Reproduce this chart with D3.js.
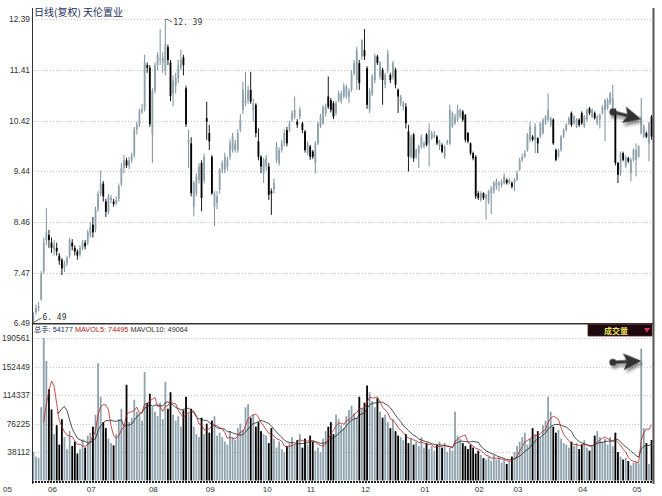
<!DOCTYPE html>
<html>
<head>
<meta charset="utf-8">
<script src="https://cdn.jsdelivr.net/npm/d3@7"></script>
<style>
body { margin: 0; background: #fff; }
svg { display: block; }
</style>
</head>
<body>
<svg width="662" height="496"></svg>
<script>
// daily bars, 天伦置业, 2009-05 .. 2010-05
const opens = [6.55,6.70,6.78,6.95,7.50,8.10,8.20,8.05,7.90,7.95,
  7.80,7.72,7.55,7.65,7.80,8.05,7.95,7.88,7.82,7.95,
  8.05,8.05,8.20,8.40,8.30,8.70,9.00,9.20,8.85,8.65,
  8.88,8.85,8.82,8.90,9.20,9.50,9.65,9.55,9.65,9.75,
  10.25,10.35,10.60,10.65,11.50,11.45,10.15,11.00,11.50,11.60,
  11.55,11.40,11.85,11.55,10.95,11.10,11.25,11.45,11.65,11.05,
  10.00,9.98,8.75,9.01,9.27,9.60,9.27,10.47,10.18,9.72,
  8.75,8.82,9.08,9.47,9.47,9.53,9.72,9.85,
  9.85,9.85,10.24,10.63,10.76,10.82,11.02,10.63,10.73,10.02,9.72,9.40,9.53,9.53,9.05,9.08,9.66,
  9.60,9.85,9.98,10.24,10.24,10.44,10.50,
  10.40,10.50,10.37,10.21,9.79,9.92,9.82,9.60,9.98,10.31,10.37,10.57,10.89,10.82,10.76,10.57,10.82,10.79,10.89,
  10.89,10.89,11.02,11.34,11.21,11.54,11.67,11.79,11.44,10.63,10.95,11.21,11.67,11.28,11.41,11.12,11.41,11.31,11.28,
  11.41,11.02,10.76,10.69,10.69,10.21,9.72,10.15,9.72,9.79,9.92,9.92,
  10.15,9.98,10.08,
  10.11,10.11,9.92,9.95,9.72,
  9.98,9.98,10.31,10.37,10.44,10.50,
  10.60,10.53,10.18,9.98,9.79,9.72,9.01,8.88,9.01,8.92,8.85,9.01,9.05,9.14,
  9.17,9.17,9.21,9.27,9.21,
  9.21,9.21,9.27,9.47,
  9.66,9.72,9.85,10.05,10.11,10.05,10.08,10.11,10.18,10.37,10.44,10.34,10.44,9.85,9.72,9.85,10.11,10.24,
  10.37,
  10.57,10.37,10.31,
  10.44,10.57,10.31,10.44,10.66,10.50,
  10.57,10.37,10.44,
  10.57,10.63,10.66,10.76,10.63,10.63,9.60,9.40,
  9.79,9.53,9.69,
  9.40,
  9.66,9.66,9.72,10.18,10.11,10.18,9.98,10.50];

const closes = [6.62,6.78,6.82,7.45,8.05,8.25,8.10,7.95,8.00,7.88,
  7.70,7.55,7.65,7.75,8.10,7.98,7.88,7.80,7.95,8.05,
  7.98,8.25,8.35,8.25,8.70,9.00,9.20,8.95,8.65,8.95,
  8.92,8.80,8.88,9.15,9.50,9.65,9.55,9.65,9.75,10.25,
  10.35,10.60,10.65,11.55,11.45,10.35,11.00,11.50,11.70,11.62,
  11.65,11.90,11.60,10.90,11.20,11.25,11.50,11.60,11.50,10.35,
  10.05,9.01,9.21,9.34,9.53,8.92,9.72,10.40,10.02,9.01,
  9.01,8.95,9.47,9.60,9.72,9.66,9.98,10.11,
  9.98,10.18,10.44,11.02,10.82,11.02,10.79,10.76,10.18,9.72,9.53,9.66,9.69,8.98,9.01,9.21,9.92,
  9.85,9.98,10.18,9.98,10.37,10.57,10.63,
  10.34,10.63,10.24,9.85,9.98,9.72,9.72,9.98,10.37,10.50,10.69,10.69,10.69,10.63,10.50,10.76,10.95,10.95,11.08,
  11.08,11.00,11.34,11.54,11.79,11.15,11.99,11.67,10.73,10.99,11.28,11.67,11.54,11.54,11.21,11.31,11.73,11.21,11.54,
  11.12,10.89,10.89,10.76,10.37,9.72,10.11,9.69,9.85,9.92,10.11,9.98,
  9.95,10.24,10.18,
  10.15,9.98,10.02,9.82,9.92,
  10.02,10.63,10.57,10.50,10.63,10.63,
  10.44,10.05,10.02,9.79,9.69,8.95,8.92,9.01,8.92,8.98,9.05,9.11,9.21,9.24,
  9.21,9.24,9.34,9.21,9.27,
  9.14,9.27,9.40,9.66,
  9.72,9.79,10.15,10.31,10.05,10.31,9.98,10.37,10.44,10.50,10.63,10.47,9.98,9.66,9.85,10.11,10.24,10.34,
  10.47,
  10.34,10.50,10.44,
  10.34,10.37,10.50,10.63,10.57,10.63,
  10.47,10.50,10.53,
  10.69,10.82,10.82,10.95,10.86,9.60,9.37,9.79,
  9.66,9.72,9.63,
  9.66,
  9.85,9.85,9.92,10.50,10.31,10.11,10.37,10.11];

const highs = [6.70,6.85,6.90,7.50,8.15,8.72,8.30,8.15,8.10,8.05,
  7.85,7.75,7.70,7.80,8.15,8.12,8.00,7.92,8.00,8.10,
  8.10,8.30,8.45,8.55,8.75,9.05,9.45,9.25,8.90,9.00,
  8.98,8.90,8.95,9.20,9.60,9.75,9.70,9.72,9.80,10.30,
  10.40,10.65,10.75,11.70,11.55,11.50,11.05,11.55,11.75,12.20,
  11.75,12.39,11.90,11.60,11.30,11.35,11.60,11.80,11.70,11.10,
  10.25,10.10,9.25,9.40,9.60,9.65,9.78,10.79,10.34,9.75,
  9.05,9.05,9.50,9.65,9.80,9.72,10.05,10.18,
  10.05,10.25,10.55,11.18,11.37,11.10,11.37,10.85,10.76,10.27,9.75,9.70,9.75,9.60,9.10,9.30,10.00,
  9.90,10.05,10.25,10.30,10.42,10.62,10.89,
  10.45,10.69,10.40,10.24,10.02,9.95,9.85,10.02,10.40,10.55,10.72,10.75,11.28,10.86,10.80,10.80,11.00,11.00,11.15,
  11.12,11.05,11.40,11.60,11.85,11.60,12.00,12.20,11.48,11.05,11.32,11.72,11.70,11.58,11.45,11.35,11.80,11.35,11.58,
  11.45,11.05,10.92,10.80,10.76,10.34,10.15,10.18,9.88,9.95,10.15,10.02,
  10.18,10.37,10.22,
  10.22,10.14,10.05,9.98,9.95,
  10.05,10.73,10.60,10.55,10.73,10.66,
  10.63,10.55,10.20,10.00,9.82,9.75,9.05,9.05,9.03,9.00,9.08,9.15,9.25,9.30,
  9.25,9.28,9.40,9.30,9.30,
  9.24,9.30,9.45,9.70,
  9.78,9.85,10.18,10.40,10.14,10.37,10.10,10.40,10.47,10.53,10.95,10.50,10.47,9.88,9.88,10.14,10.27,10.37,
  10.50,
  10.60,10.53,10.47,
  10.47,10.60,10.53,10.66,10.69,10.66,
  10.60,10.53,10.56,
  10.72,10.85,10.86,10.98,11.12,10.66,9.62,9.82,
  9.82,9.75,9.72,
  9.70,
  9.88,9.98,9.95,10.86,10.35,10.21,10.40,10.53];

const lows = [6.49,6.65,6.72,6.92,7.45,8.00,7.95,7.85,7.80,7.80,
  7.62,7.42,7.48,7.60,7.75,7.90,7.80,7.72,7.78,7.90,
  7.92,8.00,8.15,8.15,8.25,8.65,8.95,8.85,8.55,8.60,
  8.82,8.75,8.78,8.85,9.15,9.40,9.50,9.48,9.60,9.70,
  10.15,10.30,10.55,10.60,11.35,10.30,9.60,10.95,11.40,11.50,
  11.35,11.30,11.50,10.80,10.70,10.95,11.15,11.40,11.30,10.30,
  9.50,8.95,8.56,8.95,9.20,8.66,9.20,10.05,9.85,8.98,
  8.37,8.70,9.00,9.40,9.40,9.45,9.66,9.80,
  9.80,9.80,10.20,10.55,10.70,10.75,10.75,10.40,10.10,9.65,9.40,9.21,9.45,8.88,8.59,9.00,9.60,
  9.55,9.80,9.92,9.92,10.20,10.40,10.45,
  10.28,10.45,10.18,9.80,9.75,9.66,9.68,9.40,9.95,10.28,10.34,10.50,10.65,10.58,10.45,10.52,10.78,10.75,10.85,
  10.85,10.76,10.98,11.30,11.02,11.02,11.60,11.60,10.65,10.57,10.90,11.15,11.50,11.22,10.73,11.05,11.35,11.15,11.22,
  11.05,10.57,10.70,10.62,10.27,9.43,9.68,9.62,9.68,9.50,9.88,9.88,
  9.92,9.53,10.05,
  10.08,9.95,9.85,9.79,9.68,
  9.95,9.95,10.28,10.34,10.40,10.47,
  10.40,10.00,9.98,9.75,9.65,8.90,8.88,8.85,8.88,8.50,8.80,8.60,9.00,9.08,
  9.05,9.12,9.18,9.18,9.18,
  9.10,9.05,9.25,9.45,
  9.62,9.70,9.82,10.00,10.02,9.79,9.79,10.08,10.15,10.34,10.40,10.30,9.95,9.63,9.70,9.82,10.08,10.21,
  10.34,
  10.30,10.34,10.28,
  10.30,10.34,10.28,10.40,10.53,10.47,
  10.44,10.34,10.27,
  10.54,10.02,10.63,10.73,10.60,9.55,9.21,9.35,
  9.63,9.50,9.60,
  9.24,
  9.63,9.34,9.70,10.15,10.08,10.08,9.63,10.05];

const volumes = [38000,32000,30000,98000,190561,160000,122000,95000,62000,74000,
  48000,82000,58000,42000,66000,46000,52000,36000,42000,55000,
  44000,60000,64000,72000,88000,157000,112000,78000,70000,56000,
  50000,47000,62000,82000,96000,72000,128000,78000,84000,108000,
  92000,88000,80000,145000,104000,116000,98000,92000,86000,104000,
  82000,132000,96000,118000,88000,80000,86000,72000,94000,112000,
  90000,96000,72000,62000,58000,84000,62000,76000,64000,80000,
  86000,60000,64000,58000,52000,48000,66000,58000,54000,70000,
  76000,68000,98000,102000,84000,88000,72000,78000,66000,62000,
  60000,50000,70000,56000,44000,52000,42000,38000,46000,50000,
  58000,48000,54000,62000,44000,56000,48000,60000,52000,40000,
  44000,38000,56000,66000,72000,78000,62000,88000,82000,74000,
  70000,86000,94000,100000,90000,84000,112000,96000,104000,127000,
  118000,106000,98000,110000,92000,84000,88000,78000,70000,82000,
  66000,60000,58000,54000,62000,50000,56000,48000,52000,46000,
  58000,44000,50000,42000,46000,40000,48000,52000,44000,50000,
  38000,44000,40000,92000,60000,56000,50000,46000,42000,48000,
  44000,36000,40000,34000,30000,28000,32000,26000,34000,28000,
  30000,24000,28000,22000,26000,32000,38000,46000,52000,58000,
  64000,48000,56000,70000,62000,66000,58000,74000,80000,112000,
  92000,72000,64000,68000,56000,50000,48000,44000,52000,46000,
  50000,42000,48000,54000,44000,40000,46000,60000,66000,58000,
  52000,56000,48000,58000,46000,64000,38000,32000,28000,30000,
  26000,20000,24000,25163,23000,176300,70000,50000,22000,54177];

const priceTicks = [6.49, 7.47, 8.46, 9.44, 10.42, 11.41, 12.39];
const volTickLabels = ["38112", "76225", "114337", "152449", "190561"];
const monthLabels = ["05","06","07","08","09","10","11","12","01","02","03","04","05"];
const monthStarts = [0, 6, 21, 45, 67, 89, 106, 127, 150, 171, 186, 211, 232];

const svg = d3.select("svg");
const left = 32, right = 653;
const upFill = "#8ea3ad", upLine = "#6d848e";

const x = d3.scaleBand()
    .domain(d3.range(closes.length))
    .range([left, right])
    .paddingInner(0.3)
    .paddingOuter(0.2);
const cx = i => x(i) + x.bandwidth() / 2;

const y = d3.scaleLinear()
    .domain([d3.min(lows), d3.max(highs)])
    .range([323, 19.3]);

const yv = d3.scaleLinear()
    .domain([0, d3.max(volumes)])
    .range([480.5, 338]);

const defs = svg.append("defs");
const shadow = defs.append("filter").attr("id", "shadow")
    .attr("x", "-50%").attr("y", "-50%").attr("width", "200%").attr("height", "200%");
shadow.append("feDropShadow").attr("dx", 2).attr("dy", 3)
    .attr("stdDeviation", 1.6).attr("flood-color", "#000").attr("flood-opacity", 0.45);

// grid lines
svg.append("g").selectAll("line").data(priceTicks).enter().append("line")
    .attr("x1", left).attr("x2", right)
    .attr("y1", d => Math.round(y(d)) + 0.5).attr("y2", d => Math.round(y(d)) + 0.5)
    .attr("stroke", "#c8c8c8").attr("stroke-dasharray", "1,2");

const volTicks = volTickLabels.map((t, i) => d3.max(volumes) * (i + 1) / 5);
svg.append("g").selectAll("line").data(volTicks).enter().append("line")
    .attr("x1", left).attr("x2", right)
    .attr("y1", d => Math.round(yv(d)) + 0.5).attr("y2", d => Math.round(yv(d)) + 0.5)
    .attr("stroke", "#c8c8c8").attr("stroke-dasharray", "1,2");

// tick labels
svg.append("g").selectAll("text").data(priceTicks).enter().append("text")
    .attr("x", 30).attr("y", d => y(d) + 3)
    .attr("text-anchor", "end")
    .attr("font-family", "Liberation Sans, Arial, sans-serif")
    .attr("font-size", "8.4px").attr("fill", "#333")
    .text(d => d.toFixed(2));

svg.append("g").selectAll("text").data(volTickLabels).enter().append("text")
    .attr("x", 30).attr("y", (d, i) => yv(volTicks[i]) + 3)
    .attr("text-anchor", "end")
    .attr("font-family", "Liberation Sans, Arial, sans-serif")
    .attr("font-size", "8.4px").attr("fill", "#333")
    .text(d => d);

// candles
const candles = svg.append("g").selectAll("g").data(closes).enter().append("g");
candles.append("line")
    .attr("x1", (d, i) => cx(i)).attr("x2", (d, i) => cx(i))
    .attr("y1", (d, i) => y(highs[i])).attr("y2", (d, i) => y(lows[i]))
    .attr("stroke", (d, i) => d < opens[i] ? "#000" : upLine)
    .attr("stroke-width", 0.9);
candles.append("rect")
    .attr("x", (d, i) => x(i))
    .attr("width", x.bandwidth())
    .attr("y", (d, i) => y(Math.max(d, opens[i])))
    .attr("height", (d, i) => Math.max(1, Math.abs(y(d) - y(opens[i]))))
    .attr("fill", (d, i) => d < opens[i] ? "#000" : upFill);

// volume bars
svg.append("g").selectAll("rect").data(volumes).enter().append("rect")
    .attr("x", (d, i) => x(i))
    .attr("width", x.bandwidth())
    .attr("y", d => yv(d))
    .attr("height", d => yv(0) - yv(d))
    .attr("fill", (d, i) => closes[i] < opens[i] ? "#000" : upFill);

// volume moving averages
function movingAvg(n) {
    return volumes.map((v, i) => i < n - 1 ? null : d3.mean(volumes.slice(i - n + 1, i + 1)));
}
const ma5 = movingAvg(5), ma10 = movingAvg(10);
const maLine = d3.line()
    .defined(d => d !== null)
    .x((d, i) => cx(i))
    .y(d => yv(d));
svg.append("path").attr("d", maLine(ma10))
    .attr("fill", "none").attr("stroke", "#222").attr("stroke-width", 0.8);
svg.append("path").attr("d", maLine(ma5))
    .attr("fill", "none").attr("stroke", "#b22222").attr("stroke-width", 0.8);

// frame
svg.append("line").attr("x1", left + 0.5).attr("x2", left + 0.5).attr("y1", 8).attr("y2", 484)
    .attr("stroke", "#333");
svg.append("line").attr("x1", right + 0.5).attr("x2", right + 0.5).attr("y1", 8).attr("y2", 484)
    .attr("stroke", "#555").attr("stroke-width", 2);
svg.append("line").attr("x1", left).attr("x2", right).attr("y1", 323.8).attr("y2", 323.8)
    .attr("stroke", "#333").attr("stroke-width", 1.5);
svg.append("line").attr("x1", left).attr("x2", right).attr("y1", 482).attr("y2", 482)
    .attr("stroke", "#222").attr("stroke-width", 2).attr("stroke-dasharray", "2,1");

// month labels
svg.append("g").selectAll("text").data(monthLabels).enter().append("text")
    .attr("x", (d, i) => i === 0 ? 3 : x(monthStarts[i]))
    .attr("y", 492)
    .attr("font-family", "Liberation Sans, Arial, sans-serif")
    .attr("font-size", "8px").attr("fill", "#333")
    .text(d => d);

// headers
svg.append("text").attr("x", 34).attr("y", 16)
    .attr("font-family", "Noto Sans CJK SC, sans-serif").attr("font-size", "10px")
    .attr("fill", "#1d2f5a")
    .text("日线(复权)  天伦置业");

const last = volumes.length - 1;
const volHead = svg.append("text").attr("x", 34).attr("y", 332)
    .attr("font-family", "Liberation Sans, Arial, sans-serif").attr("font-size", "7.3px");
volHead.append("tspan").attr("fill", "#1d2f5a")
    .attr("font-family", "Noto Sans CJK SC, sans-serif").text("总手");
volHead.append("tspan").attr("fill", "#1d2f5a").text(": " + volumes[last] + " ");
volHead.append("tspan").attr("fill", "#b22222").text("MAVOL5: " + Math.round(ma5[last]) + " ");
volHead.append("tspan").attr("fill", "#333").text("MAVOL10: " + Math.round(ma10[last]));

// 成交量 button
svg.append("rect").attr("x", 588).attr("y", 324.5).attr("width", 64).attr("height", 11.5)
    .attr("fill", "#1c080c").attr("stroke", "#50202a").attr("stroke-width", 0.8);
svg.append("text").attr("x", 616).attr("y", 333.5).attr("text-anchor", "middle")
    .attr("font-family", "Noto Sans CJK SC, sans-serif").attr("font-size", "8px")
    .attr("font-weight", "bold").attr("fill", "#e6e25a").text("成交量");
svg.append("path").attr("d", "M644,328 L650,328 L647,332.5 Z").attr("fill", "#e0306a");

// max / min labels
const iMax = d3.maxIndex(highs), iMin = d3.minIndex(lows);
svg.append("polyline")
    .attr("points", [[cx(iMax), y(highs[iMax])], [cx(iMax) + 2, y(highs[iMax])], [cx(iMax) + 7, y(highs[iMax]) + 3]].join(" "))
    .attr("fill", "none").attr("stroke", "#333").attr("stroke-width", 0.8);
svg.append("text").attr("x", cx(iMax) + 8).attr("y", y(highs[iMax]) + 6)
    .attr("font-family", "DejaVu Sans Mono, monospace").attr("font-size", "8px").attr("fill", "#333")
    .text(highs[iMax].toFixed(2).replace(".", ". "));
svg.append("line")
    .attr("x1", cx(iMin)).attr("y1", y(lows[iMin]) - 0.5)
    .attr("x2", cx(iMin) + 8).attr("y2", y(lows[iMin]) - 5)
    .attr("stroke", "#333").attr("stroke-width", 0.8);
svg.append("text").attr("x", cx(iMin) + 9).attr("y", y(lows[iMin]) - 3)
    .attr("font-family", "DejaVu Sans Mono, monospace").attr("font-size", "8px").attr("fill", "#333")
    .text(lows[iMin].toFixed(2).replace(".", ". "));

// arrows pointing at the last bars
function arrow(x0, y0, x1, y1) {
    const len = Math.hypot(x1 - x0, y1 - y0);
    const ang = Math.atan2(y1 - y0, x1 - x0) * 180 / Math.PI;
    const g = svg.append("g")
        .attr("transform", `translate(${x0},${y0}) rotate(${ang})`)
        .attr("filter", "url(#shadow)")
        .attr("fill", "#333");
    g.append("circle").attr("r", 3.4);
    g.append("rect").attr("x", 0).attr("y", -1.6).attr("width", len - 14).attr("height", 3.2);
    g.append("path").attr("d", `M${len},0 L${len - 18},-8.5 L${len - 14},0 L${len - 18},8.5 Z`);
}
arrow(cx(224), y(10.59), cx(235), y(10.45));
arrow(cx(224), yv(158000), cx(235), yv(160000));
</script>
</body>
</html>
